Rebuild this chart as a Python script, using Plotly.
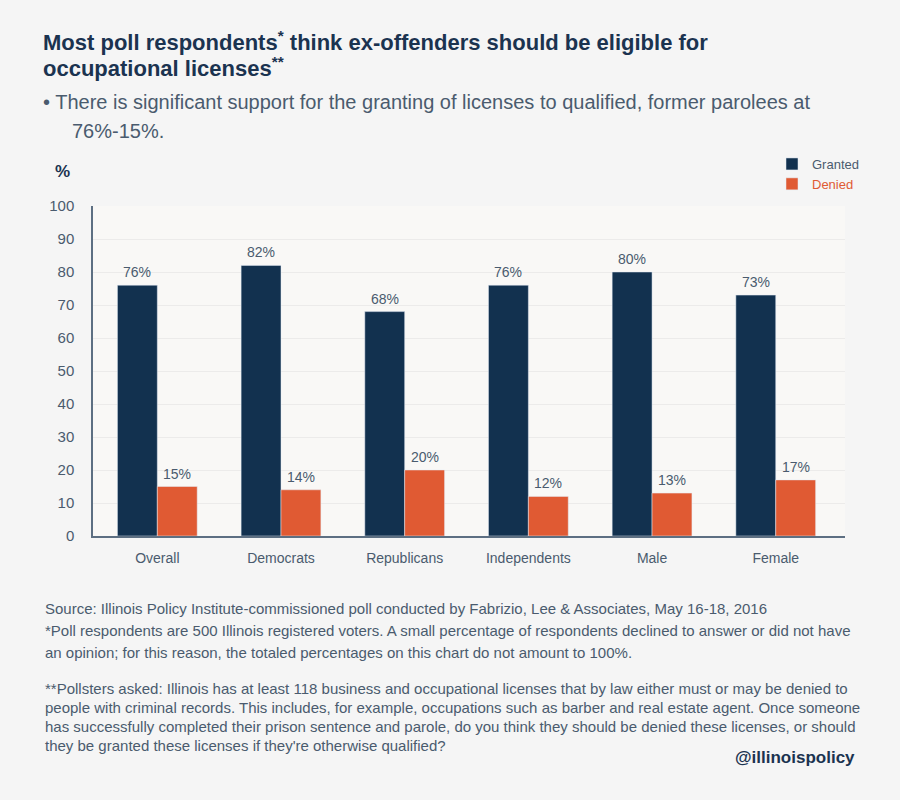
import plotly.graph_objects as go

categories = ["Overall", "Democrats", "Republicans", "Independents", "Male", "Female"]
granted = [76, 82, 68, 76, 80, 73]
denied = [15, 14, 20, 12, 13, 17]
y_ticks = [0, 10, 20, 30, 40, 50, 60, 70, 80, 90, 100]

NAVY = "#12314f"
ORANGE = "#e05a33"
TEXT = "#4a5b6e"
TITLE = "#1b3350"

W, H = 900, 800
L, R, T, B = 93, 55, 206, 264
PW, PH = W - L - R, H - T - B


def px(x):
    return (x - L) / PW


def py(y):
    return (H - B - y) / PH


fig = go.Figure()
fig.add_trace(go.Bar(
    x=categories, y=granted, name="Granted", marker_color=NAVY,
))
fig.add_trace(go.Bar(
    x=categories, y=denied, name="<span style='color:#e05a33'>Denied</span>",
    marker_color=ORANGE,
))

fig.update_layout(
    width=W, height=H,
    margin=dict(l=L, r=R, t=T, b=B),
    paper_bgcolor="#f5f5f5",
    plot_bgcolor="#f9f8f6",
    barmode="group",
    bargap=0.355,
    bargroupgap=0,
    font=dict(family="Liberation Sans, Arial, sans-serif", color=TEXT),
    showlegend=True,
    legend=dict(
        x=px(772), y=py(149), xanchor="left", yanchor="top",
        bgcolor="rgba(0,0,0,0)", font=dict(size=13, color=TEXT),
        itemwidth=30, tracegroupgap=0,
    ),
)

fig.update_xaxes(
    range=[-0.52, 5.56], showline=True, linecolor="#5d6f82", linewidth=1.5,
    ticks="", tickfont=dict(size=14, color=TEXT), showgrid=False,
    ticklabelstandoff=8,
)
fig.update_yaxes(
    range=[0, 100], tickvals=y_ticks, showline=True, linecolor="#5d6f82",
    linewidth=1.5, ticks="", tickfont=dict(size=15, color=TEXT),
    showgrid=True, gridcolor="#ecebea", gridwidth=1, zeroline=False,
    ticklabelstandoff=14,
)

annots = []

# value labels above bars (placed in data coordinates)
for cat, g, d in zip(categories, granted, denied):
    annots.append(dict(x=cat, y=g, xref="x", yref="y", text=f"{g}%", showarrow=False,
                       xanchor="center", yanchor="bottom", xshift=-20, yshift=3,
                       font=dict(size=14, color=TEXT)))
    annots.append(dict(x=cat, y=d, xref="x", yref="y", text=f"{d}%", showarrow=False,
                       xanchor="center", yanchor="bottom", xshift=20, yshift=3,
                       font=dict(size=14, color=TEXT)))


def add_text(x, y, text, size, color, bold=False, family=None, xanchor="left"):
    t = f"<b>{text}</b>" if bold else text
    annots.append(dict(
        x=px(x), y=py(y), xref="paper", yref="paper", text=t, showarrow=False,
        xanchor=xanchor, yanchor="middle", align="left",
        font=dict(size=size, color=color,
                  family=family or "Liberation Sans, Arial, sans-serif"),
    ))


add_text(41, 41, "Most poll respondents<sup>*</sup> think ex-offenders should be eligible for", 22, TITLE, bold=True)
add_text(41, 67, "occupational licenses<sup>**</sup>", 22, TITLE, bold=True)
add_text(41, 102, "• There is significant support for the granting of licenses to qualified, former parolees at", 20, TEXT)
add_text(70, 131, "76%-15%.", 20, TEXT)
add_text(53, 171, "%", 17, TITLE, bold=True)

add_text(43, 608, "Source: Illinois Policy Institute-commissioned poll conducted by Fabrizio, Lee & Associates, May 16-18, 2016", 15, TEXT)
add_text(43, 630, "*Poll respondents are 500 Illinois registered voters. A small percentage of respondents declined to answer or did not have", 15, TEXT)
add_text(43, 652, "an opinion; for this reason, the totaled percentages on this chart do not amount to 100%.", 15, TEXT)
add_text(43, 688, "**Pollsters asked: Illinois has at least 118 business and occupational licenses that by law either must or may be denied to", 15, TEXT)
add_text(43, 707, "people with criminal records. This includes, for example, occupations such as barber and real estate agent. Once someone", 15, TEXT)
add_text(43, 726, "has successfully completed their prison sentence and parole, do you think they should be denied these licenses, or should", 15, TEXT)
add_text(43, 745, "they be granted these licenses if they're otherwise qualified?", 15, TEXT)
add_text(857, 757, "@illinoispolicy", 17, TITLE, bold=True, xanchor="right")

fig.update_layout(annotations=annots)

fig.write_html("out.html")
